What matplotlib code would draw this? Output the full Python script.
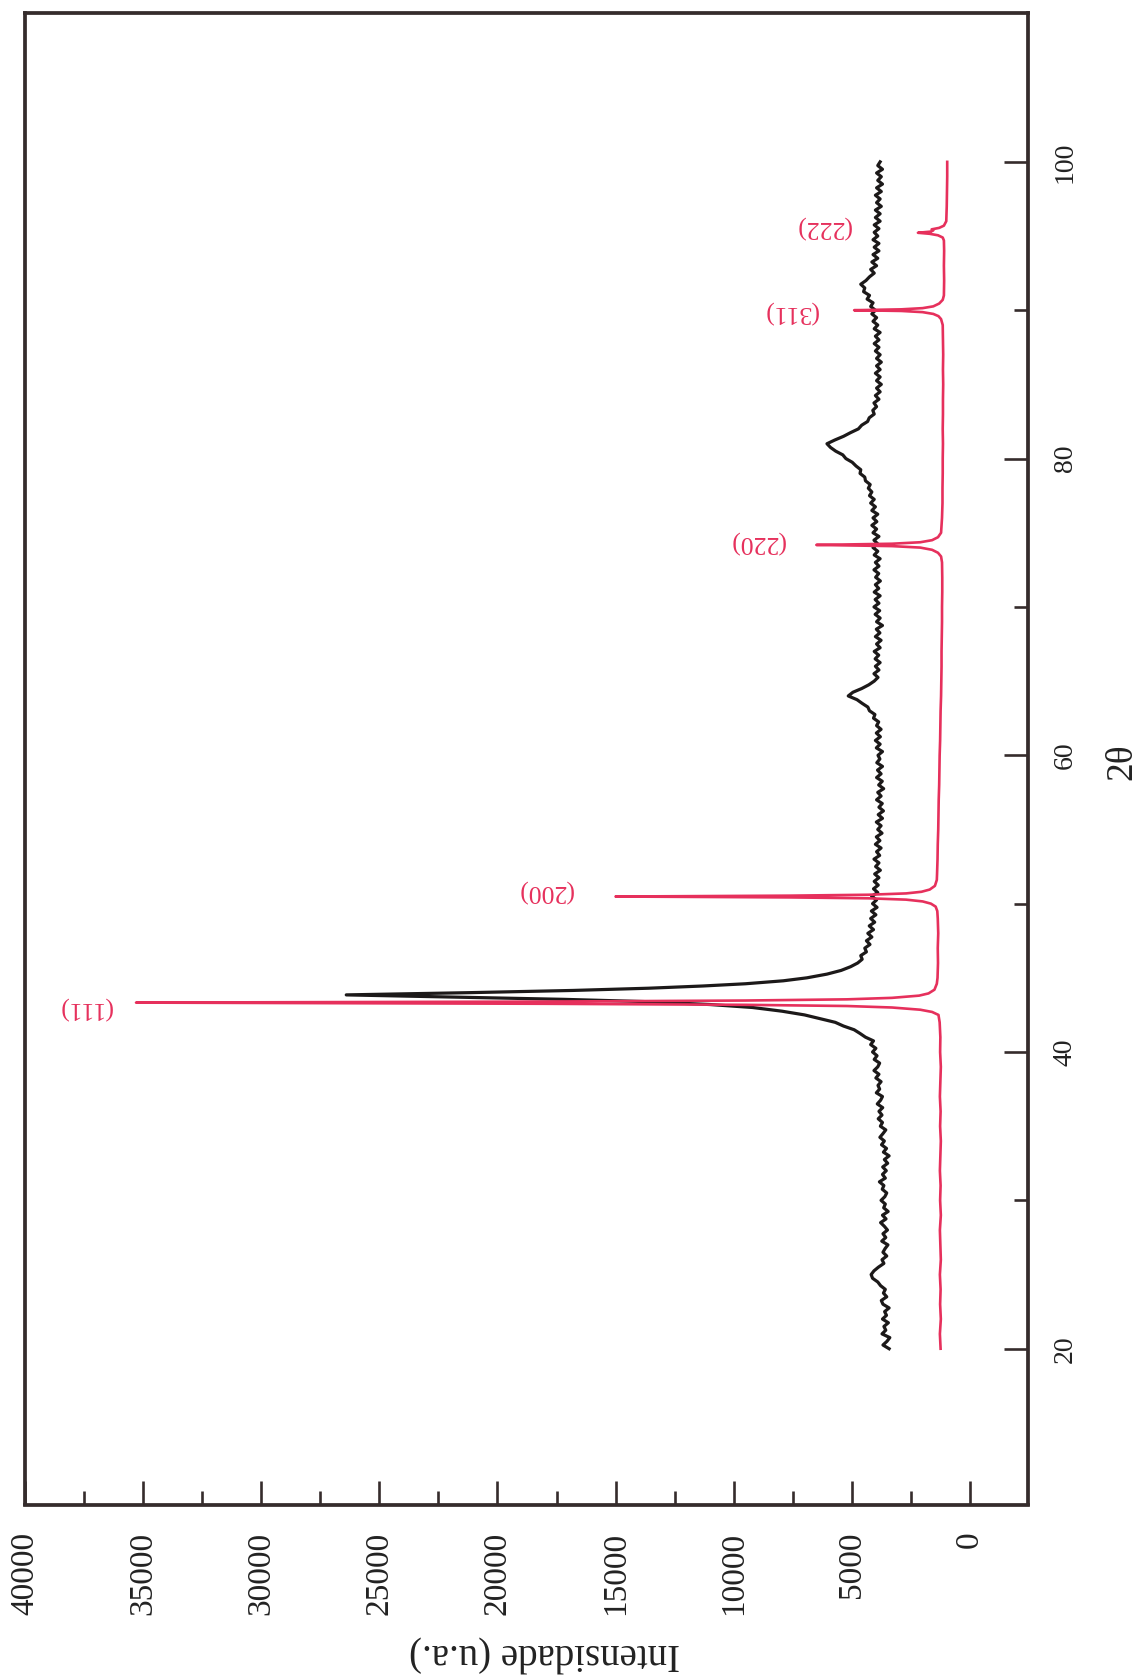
import numpy as np
import matplotlib
matplotlib.use('Agg')
from matplotlib import pyplot as plt
from matplotlib.ticker import MultipleLocator, FixedLocator

PINK = '#e6305c'
INK = '#1c1919'
FRAME = '#352c2c'

# measured pattern, 20.00 .. 40.75 deg, step 0.25
BLACK_LOW = [
    3420, 3680, 3510, 3390, 3720, 3560, 3640, 3450,   # 20
    3700, 3530, 3610, 3420, 3680, 3750, 3520, 3660,   # 22
    3580, 3780, 3900, 4120, 4180, 4060, 3870, 3640,   # 24
    3720, 3520, 3680, 3590, 3470, 3730, 3560, 3680,   # 26
    3490, 3620, 3780, 3550, 3700, 3460, 3650, 3580,   # 28
    3760, 3600, 3520, 3710, 3640, 3830, 3580, 3700,   # 30
    3540, 3690, 3480, 3620, 3420, 3660, 3530, 3740,   # 32
    3620, 3810, 3680, 3560, 3790, 3700, 3880, 3720,   # 34
    3850, 3690, 3920, 3780, 3700, 3960, 3820, 3890,   # 36
    3760, 3980, 3850, 4060, 3900, 3820, 4050, 3930,   # 38
    4120, 3980, 4200, 4080,                           # 40
]

# main reflection of the measured pattern
BLACK_PEAK = [
    (41.0, 4420), (41.25, 4650), (41.5, 4900), (41.75, 5350), (42.0, 5700),
    (42.25, 6350), (42.5, 7000), (42.75, 7950), (43.0, 9200), (43.2, 11000),
    (43.4, 13800), (43.55, 17200), (43.7, 21800), (43.85, 26400), (44.0, 21200),
    (44.15, 16800), (44.3, 13600), (44.45, 11300), (44.6, 9500), (44.8, 7900),
    (45.0, 6900), (45.25, 6050), (45.5, 5450), (45.75, 5050), (46.0, 4750),
    (46.25, 4560), (46.5, 4620), (46.75, 4380),
]

# measured pattern, 47.00 .. 100.00 deg, step 0.25
BLACK_HIGH = [
    4450, 4230, 4380, 4150, 4320, 4080, 4260, 4030,   # 47
    4200, 3980, 4170, 3930, 4120, 3950, 4160, 3900,   # 49
    4080, 3880, 4050, 3850, 4030, 3790, 3990, 3850,   # 51
    4060, 3820, 3950, 3760, 4000, 3810, 3960, 3720,   # 53
    3900, 3760, 3960, 3700, 3880, 3660, 3850, 3710,   # 55
    3950, 3760, 3900, 3650, 3860, 3710, 3950, 3760,   # 57
    3910, 3700, 3940, 3810, 3890, 3700, 3960, 3800,   # 59
    4000, 3790, 3960, 3760, 3950, 3860, 4080, 4020,   # 61
    4250, 4320, 4560, 4780, 5150, 4950, 4580, 4280,   # 63
    4050, 3890, 4060, 3850, 4000, 3800, 4010, 3860,   # 65
    4050, 3800, 3950, 3760, 4000, 3810, 3960, 3700,   # 67
    3950, 3800, 4010, 3820, 4060, 3850, 4010, 3800,   # 69
    4050, 3860, 4000, 3790, 3990, 3860, 4060, 3850,   # 71
    4000, 3800, 4050, 3900, 4100, 3900, 4060, 3850,   # 73
    4100, 3950, 4150, 3940, 4100, 3900, 4150, 4000,   # 75
    4200, 4050, 4250, 4150, 4300, 4220, 4420, 4450,   # 77
    4650, 4620, 4820, 4980, 5250, 5380, 5680, 5900,   # 79
    6050, 5720, 5350, 5050, 4720, 4580, 4330, 4260,   # 81
    4050, 4110, 3950, 4060, 3850, 4000, 3800, 3950,   # 83
    3750, 3950, 3800, 4000, 3800, 3950, 3750, 3950,   # 85
    3800, 4000, 3850, 4050, 3850, 4000, 3800, 4050,   # 87
    3900, 4100, 3950, 4150, 4000, 4200, 4100, 4350,   # 89
    4250, 4500, 4450, 4620, 4400, 4250, 4050, 4200,   # 91
    3950, 4150, 3900, 4100, 3850, 4050, 3850, 4100,   # 93
    3900, 4050, 3850, 4050, 3800, 4000, 3800, 4000,   # 95
    3750, 3950, 3800, 4000, 3750, 3950, 3700, 3900,   # 97
    3750, 3950, 3700, 3900, 3800,                     # 99
]

# reference pattern (Cu)
PINK_POINTS = [
    (20.0, 1240), (21, 1270), (22, 1230), (23, 1260), (24, 1240), (25, 1270),
    (26, 1230), (27, 1250), (28, 1270), (29, 1230), (30, 1260), (31, 1240),
    (32, 1270), (33, 1250), (34, 1230), (35, 1260), (36, 1240), (37, 1270),
    (38, 1250), (39, 1230), (40, 1260), (41, 1250), (42, 1280),
    (42.5, 1330), (42.7, 1600), (42.85, 2100), (43.0, 3300), (43.1, 5200),
    (43.18, 9500), (43.25, 18000), (43.33, 35300), (43.4, 18000), (43.47, 9500),
    (43.55, 5200), (43.65, 3300), (43.8, 2150), (43.95, 1750), (44.2, 1500),
    (44.6, 1400), (45, 1370), (46, 1350), (47, 1360), (48, 1340), (49, 1360),
    (49.5, 1380), (49.8, 1450), (50.0, 1650), (50.15, 2000), (50.27, 2700),
    (50.36, 4300), (50.42, 7600), (50.48, 15000), (50.54, 7600), (50.6, 4300),
    (50.69, 2700), (50.8, 2050), (50.95, 1700), (51.2, 1480), (51.6, 1400),
    (52, 1390), (53, 1370), (54, 1360), (55, 1340), (56, 1330), (57, 1320),
    (58, 1300), (59, 1290), (60, 1280), (61, 1260), (62, 1250), (63, 1240),
    (64, 1220), (65, 1210), (66, 1200), (67, 1200), (68, 1190), (69, 1180),
    (70, 1180), (71, 1170), (72, 1170), (73, 1180), (73.4, 1220),
    (73.65, 1350), (73.85, 1600), (74.0, 2100), (74.1, 3300), (74.18, 6500),
    (74.26, 3300), (74.36, 2100), (74.5, 1600), (74.7, 1350), (75.0, 1220),
    (76, 1180), (77, 1160), (78, 1160), (79, 1150), (80, 1150), (81, 1140),
    (82, 1150), (83, 1140), (84, 1140), (85, 1130), (86, 1140), (87, 1130),
    (88, 1140), (89, 1150), (89.4, 1220),
    (89.6, 1330), (89.75, 1550), (89.87, 2000), (89.95, 2900), (90.0, 4900),
    (90.06, 2900), (90.14, 2000), (90.26, 1550), (90.45, 1300), (90.7, 1150),
    (91, 1100), (92, 1090), (93, 1100), (94, 1090), (94.7, 1100),
    (94.9, 1150), (95.05, 1350), (95.15, 1700), (95.22, 2200), (95.3, 1650),
    (95.38, 1550), (95.45, 1620), (95.55, 1300), (95.7, 1100), (96.0, 1000),
    (97, 980), (98, 970), (99, 960), (100, 960),
]

HKL = ['(111)', '(200)', '(220)', '(311)', '(222)']
HKL_TT = [42.97, 50.89, 74.38, 89.88, 95.63]
HKL_I = [37440, 17990, 9015, 7575, 6220]

plt.rcParams['font.family'] = ['Liberation Serif', 'DejaVu Serif']

fig = plt.figure(figsize=(11.46, 16.76), dpi=100)
ax = fig.add_axes([25 / 1146, 1 - 1504.5 / 1676, 1003 / 1146, 1491 / 1676])

tt_low = 20.0 + 0.25 * np.arange(len(BLACK_LOW))
tt_high = 47.0 + 0.25 * np.arange(len(BLACK_HIGH))
peak_tt, peak_i = zip(*BLACK_PEAK)
black_tt = np.concatenate([tt_low, peak_tt, tt_high])
black_i = np.concatenate([BLACK_LOW, peak_i, BLACK_HIGH])

pink_tt, pink_i = zip(*PINK_POINTS)

ax.plot(black_i, black_tt, color=INK, lw=2.3)
ax.plot(pink_i, pink_tt, color=PINK, lw=1.9)

for label, t, i in zip(HKL, HKL_TT, HKL_I):
    ax.text(i, t, label, rotation=180, ha='center', va='center',
            color=PINK, fontsize=18.5)

ax.set_xlim(40000, -2460)
ax.set_ylim(9.5, 110)

ax.xaxis.set_major_locator(MultipleLocator(5000))
ax.xaxis.set_minor_locator(MultipleLocator(2500))
ax.yaxis.set_major_locator(MultipleLocator(20))
ax.yaxis.set_minor_locator(FixedLocator([30, 50, 70, 90]))
ax.yaxis.tick_right()

for spine in ax.spines.values():
    spine.set_linewidth(2.7)
    spine.set_color(FRAME)

ax.tick_params(axis='x', which='both', direction='in', bottom=True, top=False,
               width=1.9, color=FRAME, labelrotation=90, labelsize=24,
               pad=19.5, labelcolor='#222222')
ax.tick_params(axis='x', which='major', length=17.5)
ax.tick_params(axis='x', which='minor', length=10)
ax.tick_params(axis='y', which='both', direction='in', left=False, right=True,
               labelleft=False, labelright=True, width=1.9, color=FRAME,
               labelrotation=90, labelsize=20, pad=18, labelcolor='#222222')
ax.tick_params(axis='y', which='major', length=17.5)
ax.tick_params(axis='y', which='minor', length=10)
for lbl in ax.get_yticklabels():
    lbl.set_va('center')

ax.set_xlabel('Intensidade (u.a.)', fontsize=28, rotation=180, color='#222222')
ax.xaxis.set_label_coords(0.518, -0.0996)
ax.xaxis.label.set_va('center')

ax.yaxis.set_label_position('right')
ax.set_ylabel('2θ', fontsize=27, rotation=90, color='#222222')
ax.yaxis.set_label_coords(1.0937, 0.498)
ax.yaxis.label.set_va('center')
ax.yaxis.label.set_ha('center')

fig.savefig('out.png', dpi=100)
